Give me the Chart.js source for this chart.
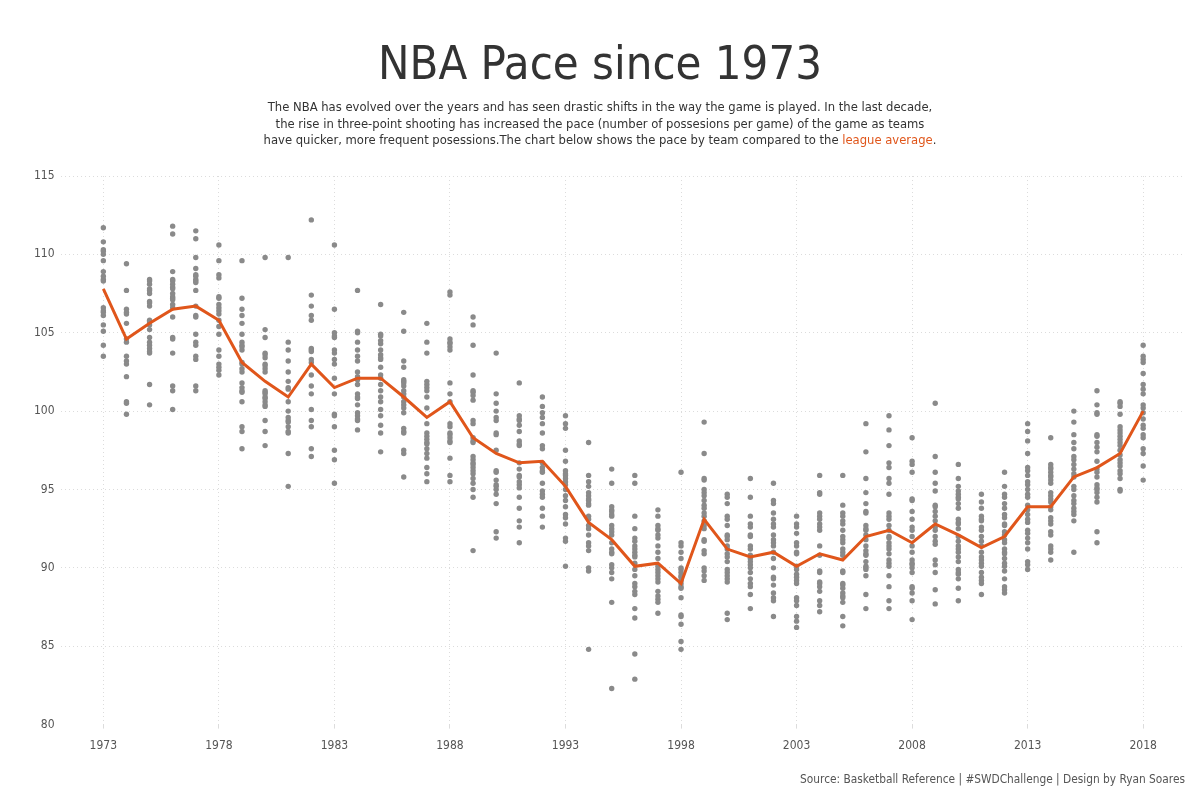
<!DOCTYPE html>
<html>
<head>
<meta charset="utf-8">
<script src="https://cdn.jsdelivr.net/npm/chart.js@4.4.1/dist/chart.umd.min.js"></script>
<style>
  html, body { margin: 0; padding: 0; background: #ffffff; }
  body { width: 1200px; height: 800px; position: relative; overflow: hidden; font-family: "DejaVu Sans Condensed", "DejaVu Sans", sans-serif; color: #333; }
  #chart { position: absolute; left: 0; top: 0; }
  #title { position: absolute; left: 0; width: 1200px; top: 33px; text-align: center; font-size: 46.8px; line-height: 60px; color: #333; }
  #subtitle { position: absolute; left: 0; width: 1200px; top: 99px; text-align: center; font-size: 12.9px; line-height: 16.5px; color: #333; }
  #subtitle .hl { color: #e0561b; }
  #source { position: absolute; right: 15px; top: 772px; font-size: 11.8px; color: #555; }
</style>
</head>
<body>
<canvas id="chart" width="1200" height="800"></canvas>
<div id="title">NBA Pace since 1973</div>
<div id="subtitle">The NBA has evolved over the years and has seen drastic shifts in the way the game is played. In the last decade,<br>the rise in three-point shooting has increased the pace (number of possesions per game) of the game as teams<br>have quicker, more frequent posessions.The chart below shows the pace by team compared to the <span class="hl">league average</span>.</div>
<div id="source">Source: Basketball Reference | #SWDChallenge | Design by Ryan Soares</div>
<script>
// ---- data ----
const years = [1973,1974,1975,1976,1977,1978,1979,1980,1981,1982,1983,1984,1985,1986,1987,1988,1989,1990,1991,1992,1993,1994,1995,1996,1997,1998,1999,2000,2001,2002,2003,2004,2005,2006,2007,2008,2009,2010,2011,2012,2013,2014,2015,2016,2017,2018];
const xTickYears = [1973,1978,1983,1988,1993,1998,2003,2008,2013,2018];
const yTicks = [80,85,90,95,100,105,110,115];
const leagueAvg = [107.8,104.6,105.6,106.5,106.7,105.8,103.1,101.9,100.9,103.0,101.5,102.1,102.1,100.9,99.6,100.6,98.3,97.3,96.7,96.8,95.2,92.9,91.8,90.1,90.3,89.0,93.1,91.2,90.7,91.0,90.1,90.9,90.5,92.0,92.4,91.6,92.8,92.1,91.3,92.0,93.9,93.9,95.8,96.4,97.3,100.0];

const p1973 = [111.7,110.8,110.3,110.2,110.0,109.6,108.9,108.6,108.4,108.3,106.6,106.4,106.3,106.1,105.5,105.1,104.2,103.5];
const p1974 = [109.4,107.7,106.5,106.3,106.2,105.6,104.6,104.4,103.5,103.2,103.0,102.2,100.6,100.5,99.8];
const p1975 = [108.4,108.3,108.1,107.8,107.7,107.5,107.0,106.9,106.7,105.8,105.7,105.5,105.2,104.7,104.4,104.2,104.0,103.8,103.7,101.7,100.4];
const p1976 = [111.8,111.3,108.9,108.4,108.3,108.1,107.9,107.8,107.5,107.3,107.2,107.1,106.8,106.6,106.0,104.7,104.6,103.7,101.6,101.3,100.1];
const p1977 = [111.5,111.0,109.8,109.1,108.7,108.6,108.4,108.3,108.2,107.7,106.7,106.1,106.0,104.9,104.4,104.2,103.5,103.3,101.6,101.3];
const p1978 = [110.6,109.6,108.7,108.5,107.3,107.2,106.8,106.6,106.4,106.2,105.8,105.4,104.9,103.9,103.5,103.0,102.8,102.6,102.3];
const p1979 = [109.6,107.2,106.5,106.1,105.6,104.9,104.4,104.2,104.1,103.9,103.1,103.0,102.7,102.5,101.8,101.5,101.3,101.2,100.6,99.0,98.7,97.6];
const p1980 = [109.8,105.2,104.7,103.7,103.6,103.4,103.0,102.9,102.7,102.5,101.3,101.2,101.1,100.9,100.8,100.6,100.4,100.3,99.4,98.7,97.8];
const p1981 = [109.8,104.4,103.9,103.2,102.5,101.9,101.5,101.4,100.6,100.0,99.6,99.4,99.3,99.0,98.7,98.6,97.3,95.2];
const p1982 = [112.2,107.4,106.7,106.1,105.8,104.0,103.9,103.8,103.3,103.1,102.3,101.6,101.1,100.1,99.4,99.0,97.6,97.1];
const p1983 = [110.6,106.5,105.0,104.8,104.7,103.9,103.7,103.3,103.0,102.1,101.1,99.8,99.7,99.0,97.5,96.9,95.4];
const p1984 = [107.7,105.1,105.0,104.4,103.9,103.5,103.2,102.5,102.2,102.0,101.7,101.1,100.9,100.8,100.4,99.9,99.7,99.5,99.4,98.8];
const p1985 = [106.8,104.9,104.8,104.5,104.3,103.9,103.6,103.4,103.3,102.8,102.3,102.1,101.7,101.3,100.9,100.6,100.1,99.7,99.1,98.6,97.4];
const p1986 = [106.3,105.1,103.2,102.8,102.0,101.9,101.8,101.6,101.3,101.1,100.9,100.6,100.4,100.2,99.9,98.9,98.7,98.6,97.5,97.3,95.8];
const p1987 = [105.6,104.4,103.7,101.9,101.7,101.5,101.3,100.9,100.2,99.2,98.6,98.4,98.2,98.0,97.9,97.6,97.3,97.0,96.4,96.0,95.5];
const p1988 = [107.6,107.4,104.6,104.4,104.3,104.1,103.9,101.8,101.1,100.6,99.2,99.0,98.6,98.5,98.3,98.1,98.0,97.0,95.9,95.5];
const p1989 = [106.0,105.5,104.2,102.3,101.3,101.2,101.0,100.7,99.4,99.2,98.3,98.1,98.0,97.1,96.9,96.7,96.6,96.4,96.2,96.0,95.7,95.4,95.0,94.5,91.1];
const p1990 = [103.7,101.1,100.5,100.0,99.6,99.4,98.6,98.5,97.5,96.2,96.1,95.6,95.3,95.2,95.0,94.7,94.1,92.3,91.9];
const p1991 = [101.8,99.7,99.5,99.4,99.1,98.7,98.1,97.9,97.8,96.7,96.3,95.9,95.8,95.5,95.3,95.1,94.5,93.8,93.0,92.6,91.6];
const p1992 = [100.9,100.3,99.9,99.6,99.2,98.6,97.8,97.6,96.7,96.4,96.2,96.1,95.4,94.9,94.7,94.5,93.8,93.3,92.6];
const p1993 = [99.7,99.2,98.9,97.5,96.8,96.2,96.0,95.9,95.7,95.5,95.3,95.0,94.6,94.3,93.9,93.4,93.2,92.8,91.9,91.7,90.1];
const p1994 = [98.0,95.9,95.5,95.2,94.8,94.6,94.4,94.3,94.1,94.0,93.3,93.1,92.7,92.5,92.1,91.6,91.4,91.1,90.0,89.8,84.8];
const p1995 = [96.3,95.4,93.9,93.7,93.6,93.4,93.3,92.7,92.5,92.3,92.1,91.6,91.2,91.0,90.9,90.2,90.0,89.7,89.3,87.8,82.3];
const p1996 = [95.9,95.4,93.3,92.5,91.9,91.7,91.4,91.2,91.0,90.8,90.7,90.3,89.9,89.5,89.0,88.8,88.5,88.3,87.4,86.8,84.5,82.9];
const p1997 = [93.7,93.3,92.7,92.5,92.4,92.1,91.9,91.4,91.0,90.6,90.1,89.9,89.7,89.5,89.3,89.1,88.5,88.2,88.0,87.8,87.1];
const p1998 = [96.1,91.6,91.4,91.0,90.6,90.0,89.9,89.7,89.5,89.4,89.2,89.0,88.8,88.7,88.1,87.0,86.9,86.4,85.3,84.8];
const p1999 = [99.3,97.3,95.7,95.6,95.0,94.8,94.6,94.3,94.0,93.8,93.5,93.3,93.0,92.7,92.5,91.8,91.7,91.1,90.9,90.0,89.8,89.5,89.2];
const p2000 = [94.7,94.5,94.1,93.3,93.1,92.7,92.1,92.0,91.8,91.4,91.2,90.9,90.7,90.4,89.9,89.7,89.5,89.3,89.1,87.1,86.7];
const p2001 = [95.7,94.5,93.3,92.8,92.6,92.1,92.0,91.4,91.2,90.8,90.6,90.4,90.2,90.0,89.7,89.3,89.0,88.8,88.3,87.4];
const p2002 = [95.4,94.3,94.1,93.5,93.1,92.8,92.6,92.1,91.8,91.6,91.4,91.0,90.6,90.0,89.4,89.3,88.9,88.4,88.1,87.9,86.9];
const p2003 = [93.3,92.8,92.6,92.2,91.6,91.4,91.0,90.9,90.1,89.9,89.6,89.4,89.2,89.0,88.1,87.9,87.6,86.9,86.6,86.2];
const p2004 = [95.9,94.8,94.7,93.5,93.3,93.1,92.8,92.6,92.4,91.4,90.8,89.8,89.7,89.1,89.0,88.8,88.5,87.9,87.6,87.2];
const p2005 = [95.9,94.0,93.5,93.3,93.0,92.8,92.4,92.0,91.8,91.6,91.2,91.0,90.8,89.8,89.7,89.0,88.9,88.7,88.4,88.2,88.1,87.8,86.9,86.3];
const p2006 = [99.2,97.4,95.7,94.8,94.1,93.6,93.5,92.7,92.5,92.4,92.1,91.8,91.4,91.1,90.9,90.8,90.4,90.1,90.0,89.9,89.5,88.3,87.4];
const p2007 = [99.7,98.8,97.8,96.7,96.4,95.7,95.4,94.7,93.5,93.3,93.1,92.7,92.4,92.0,91.9,91.6,91.4,91.2,90.9,90.5,90.3,90.1,89.5,88.8,87.9,87.4];
const p2008 = [98.3,96.8,96.6,96.1,94.4,94.3,93.6,93.1,92.6,92.4,92.0,91.4,91.0,90.5,90.3,90.2,90.0,89.7,88.8,88.7,88.4,87.9,86.7];
const p2009 = [100.5,97.1,96.1,95.4,94.9,94.0,93.9,93.6,93.3,93.0,92.6,92.4,92.0,91.7,91.5,90.5,90.2,89.7,88.6,87.7];
const p2010 = [96.6,95.7,95.2,94.9,94.7,94.5,94.4,94.1,93.8,93.1,92.9,92.8,92.5,92.0,91.7,91.4,91.2,91.0,90.7,90.4,89.9,89.7,89.6,89.3,88.7,87.9];
const p2011 = [94.7,94.2,93.8,93.3,93.1,93.0,92.6,92.4,92.0,91.7,91.4,91.0,90.7,90.5,90.3,90.1,89.7,89.4,89.2,89.0,88.3];
const p2012 = [96.1,95.2,94.7,94.5,94.1,93.8,93.4,93.2,92.8,92.7,92.3,92.1,91.8,91.6,91.2,91.0,90.9,90.6,90.3,90.1,89.8,89.3,88.8,88.6,88.4];
const p2013 = [99.2,98.7,98.1,97.3,96.4,96.2,95.9,95.5,95.3,95.0,94.7,94.5,94.0,93.7,93.4,93.1,92.9,92.4,92.2,91.9,91.6,91.2,90.4,90.2,89.9];
const p2014 = [98.3,96.6,96.4,96.3,96.1,95.9,95.8,95.6,95.4,94.8,94.6,94.4,94.2,93.9,93.7,93.2,93.0,92.8,92.3,92.1,91.4,91.2,91.0,90.5];
const p2015 = [100.0,99.3,98.5,98.0,97.6,97.1,96.9,96.6,96.3,96.0,95.8,95.2,95.0,94.6,94.3,94.1,93.8,93.6,93.4,93.0,91.0];
const p2016 = [101.3,100.4,99.9,99.8,98.5,98.4,98.0,97.7,97.4,96.8,96.3,96.1,95.8,95.3,95.1,95.0,94.8,94.5,94.2,92.3,91.6];
const p2017 = [100.6,100.5,100.3,99.8,99.0,98.8,98.6,98.4,98.2,98.0,97.8,97.5,97.2,96.9,96.7,96.5,96.2,96.0,95.7,95.0,94.9];
const p2018 = [104.2,103.5,103.3,103.1,102.4,101.7,101.4,101.1,100.4,100.2,99.9,99.5,99.1,98.9,98.5,98.3,97.6,97.3,96.5,95.6];

const teamPaceByYear = [p1973,p1974,p1975,p1976,p1977,p1978,p1979,p1980,p1981,p1982,p1983,p1984,p1985,p1986,p1987,p1988,p1989,p1990,p1991,p1992,p1993,p1994,p1995,p1996,p1997,p1998,p1999,p2000,p2001,p2002,p2003,p2004,p2005,p2006,p2007,p2008,p2009,p2010,p2011,p2012,p2013,p2014,p2015,p2016,p2017,p2018];

// ---- build datasets ----
const teamPoints = [];
years.forEach((yr, i) => {
  teamPaceByYear[i].forEach(v => teamPoints.push({ x: yr, y: v }));
});
const avgPoints = years.map((yr, i) => ({ x: yr, y: leagueAvg[i] }));

const FONT = '"DejaVu Sans Condensed", "DejaVu Sans", sans-serif';
const GRID = '#dcdcdc';

new Chart(document.getElementById('chart'), {
  type: 'scatter',
  data: {
    datasets: [
      {
        type: 'line',
        label: 'League average',
        data: avgPoints,
        borderColor: '#e0561b',
        backgroundColor: '#e0561b',
        borderWidth: 3,
        pointRadius: 0,
        tension: 0,
        order: 0
      },
      {
        label: 'Team pace',
        data: teamPoints,
        backgroundColor: '#8a8a8a',
        borderWidth: 0,
        pointRadius: 2.7,
        pointHoverRadius: 2.7,
        order: 1
      }
    ]
  },
  options: {
    responsive: false,
    animation: false,
    devicePixelRatio: 1,
    layout: { padding: { top: 176, left: 28, right: 18, bottom: 37 } },
    plugins: {
      legend: { display: false },
      tooltip: { enabled: false }
    },
    scales: {
      x: {
        type: 'linear',
        min: 1971.15,
        max: 2019.68,
        afterBuildTicks: (axis) => { axis.ticks = xTickYears.map(v => ({ value: v })); },
        ticks: {
          color: '#555',
          font: { family: FONT, size: 12 },
          padding: 10,
          callback: (v) => String(v)
        },
        grid: {
          color: GRID,
          lineWidth: 1,
          drawTicks: true,
          tickLength: 4
        },
        border: { display: false, dash: [1, 3] }
      },
      y: {
        min: 80,
        max: 115,
        afterBuildTicks: (axis) => { axis.ticks = yTicks.map(v => ({ value: v })); },
        ticks: {
          color: '#555',
          font: { family: FONT, size: 12 },
          padding: 6
        },
        grid: {
          color: (ctx) => (ctx.tick && ctx.tick.value === 80) ? 'rgba(0,0,0,0)' : GRID,
          lineWidth: 1,
          drawTicks: false
        },
        border: { display: false, dash: [1, 3] }
      }
    }
  }
});
</script>
</body>
</html>
